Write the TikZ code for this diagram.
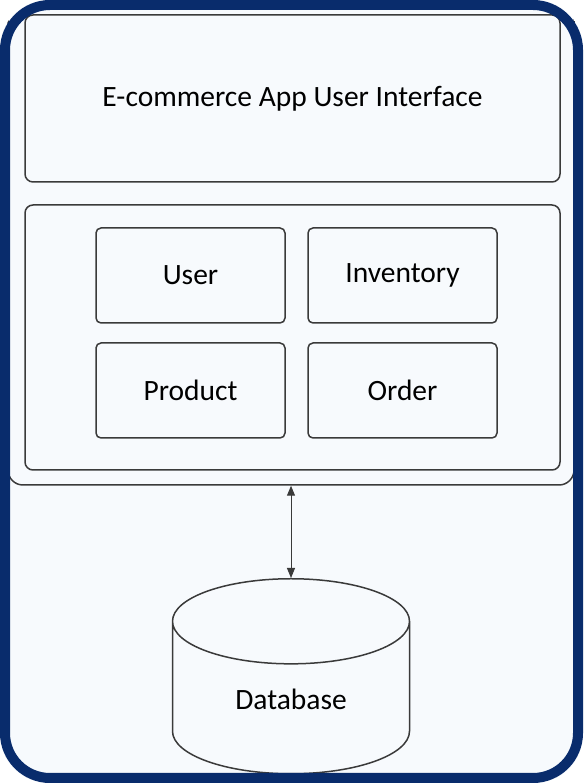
\documentclass[tikz,border=0pt]{standalone}
\usepackage{fontspec}
\setmainfont{Carlito}
\usetikzlibrary{positioning,shapes.geometric,arrows.meta}
\definecolor{framenavy}{RGB}{9,44,108}
\definecolor{panelbg}{RGB}{247,250,253}
\definecolor{boxline}{RGB}{58,58,58}

\begin{document}
\begin{tikzpicture}[x=1pt, y=1pt,
    every node/.style={font=\fontsize{29.5}{35}\selectfont},
    layerbox/.style={draw=boxline, line width=1.5pt, rounded corners=8pt, fill=panelbg, minimum width=535pt},
    modbox/.style={draw=boxline, line width=1.5pt, rounded corners=5pt, fill=panelbg, minimum width=189pt, minimum height=95pt},
    dbshape/.style={draw=boxline, line width=1.5pt, cylinder, shape border rotate=90, aspect=0.72, minimum width=237pt, minimum height=195pt, fill=panelbg},
    dblarrow/.style={{Triangle[length=10pt,width=8pt]}-{Triangle[length=10pt,width=8pt]}, line width=1pt, draw=boxline}]

    \useasboundingbox (0,0) rectangle (583,783);
    % background panel
    \fill[panelbg, rounded corners=48pt] (0,0) rectangle (583,783);

    % application container, cut by the frame
    \begin{scope}
        \clip[rounded corners=48pt] (0,0) rectangle (583,783);
        \node (appbox) [draw=boxline, line width=1.5pt, rounded corners=15pt, inner sep=0pt, minimum width=566pt, minimum height=495pt] at (291,545.5) {};
    \end{scope}

    \node (ui) [layerbox, minimum height=167pt] at (292.5,684.5) {E-commerce App User Interface};
    \node (services) [layerbox, minimum height=265pt] at (292.5,445.5) {};

    \node (user) [modbox] at (190.5,507.5) {User};
    \node (inventory) [modbox, right=21.5pt of user] {Inventory};
    \node (product) [modbox, below=18.5pt of user] {Product};
    \node (order) [modbox, right=21.5pt of product] {Order};

    \node (db) [dbshape, anchor=top] at (291,205) {\raisebox{8pt}{Database}};

    \draw [dblarrow] (appbox.south) -- (db.top);

    % outer frame
    \draw[framenavy, line width=10pt, rounded corners=45pt] (5,5) rectangle (578,778);
\end{tikzpicture}
\end{document}
